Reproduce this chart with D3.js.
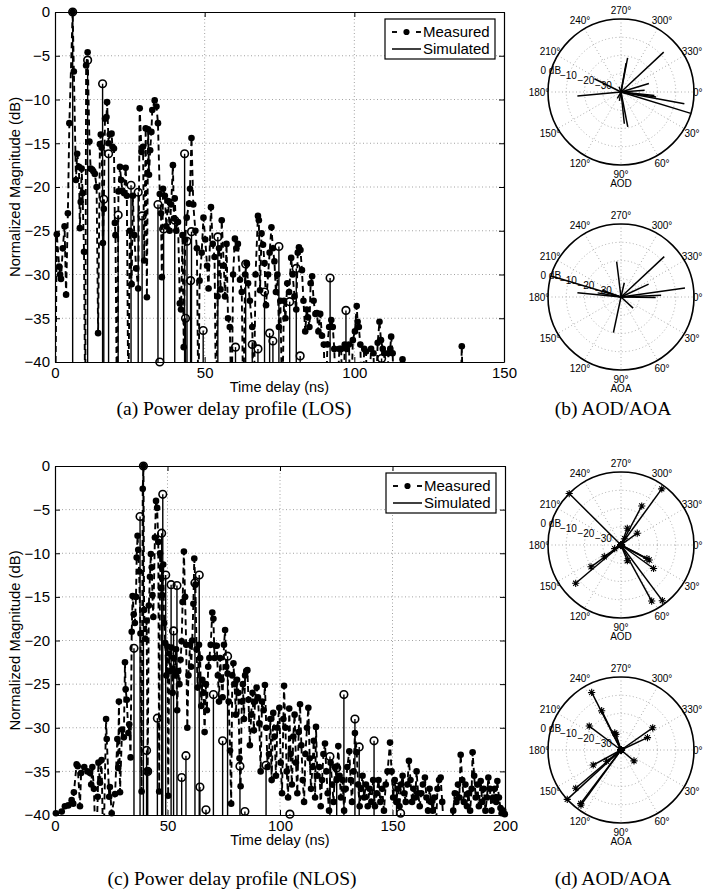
<!DOCTYPE html>
<html lang="en">
<head>
<meta charset="UTF-8">
<title>Power delay profiles and AOD/AOA</title>
<style>
  body { margin: 0; background: #fff; }
  text { font-family: "Liberation Sans", Arial, Helvetica, sans-serif; fill: #000; }
  .grid { stroke: #8a8a8a; stroke-width: 0.8; stroke-dasharray: 1,2.5; }
  .measured { fill: none; stroke: #000; stroke-width: 1.9; stroke-dasharray: 6,4; }
  .stem { stroke: #000; stroke-width: 1.4; }
  .simdot { fill: none; stroke: #000; stroke-width: 1.6; }
  .caption { font-family: "Liberation Serif", "DejaVu Serif", serif; font-size: 19.5px; }
  .polar-grid { fill: none; stroke: #9a9a9a; stroke-width: 0.8; stroke-dasharray: 1,2.5; }
  .ray { stroke: #000; stroke-width: 1.5; }
</style>
</head>
<body>
<div id="fig"></div>
<script src="https://cdnjs.cloudflare.com/ajax/libs/d3/7.8.5/d3.min.js"></script>
<script>
// ---- data: [time (ns), magnitude (dB)] ----
var losMeasured = [
  [0.0,-48],[0.6,-25.4],[1.4,-29.1],[1.7,-30.0],[2.0,-30.5],[2.6,-27.0],[3.2,-24.5],[3.7,-32.3],[4.3,-23.0],[4.8,-12.7],
  [5.9,0],[6.3,-6.8],[7.0,-19.2],[7.4,-16.2],[8.0,-17.7],[8.3,-24.7],[8.6,-21.7],[8.9,-17.9],[9.2,-20.7],[9.7,-27.4],
  [10.1,-46],[10.4,-6.1],[10.9,-4.6],[11.5,-14.8],[11.9,-17.9],[12.4,-18.0],[12.8,-18.2],[13.3,-18.5],[13.9,-20.0],[14.4,-36.7],
  [15.0,-15.1],[15.3,-14.0],[15.6,-15.5],[16.0,-26.4],[16.3,-22.5],[16.7,-12.2],[17.2,-12.0],[17.4,-10.3],[17.9,-15.0],[18.3,-14.0],
  [18.9,-13.9],[19.2,-15.4],[19.7,-15.6],[20.0,-24.1],[20.2,-25.5],[20.7,-46],[21.2,-20.5],[21.7,-17.7],[22.1,-19.2],[22.5,-20.4],
  [23.1,-20.7],[23.6,-17.8],[24.0,-21.0],[24.5,-46],[25.0,-25.0],[25.6,-31.1],[26.0,-21.0],[26.5,-25.5],[27.1,-29.3],[27.8,-31.6],
  [28.3,-11.0],[28.9,-16.0],[29.4,-15.4],[29.8,-28.4],[30.3,-13.3],[30.7,-32.6],[31.1,-13.4],[31.4,-18.6],[31.8,-15.8],[32.2,-13.7],
  [32.5,-11.2],[33.3,-10.1],[33.9,-10.8],[34.4,-12.7],[35.0,-20.8],[35.4,-23.0],[35.7,-30.3],[36.1,-20.2],[36.7,-21.0],[37.2,-24.5],
  [37.8,-21.6],[38.3,-25.0],[38.8,-22.0],[39.4,-17.5],[39.7,-23.6],[40.0,-21.3],[40.5,-25.0],[41.1,-24.0],[41.7,-33.3],[42.1,-34.0],
  [42.6,-25.5],[43.0,-38.3],[43.5,-26.0],[44.0,-23.5],[44.8,-21.9],[45.1,-20.2],[45.6,-14.4],[46.2,-22.0],[46.9,-25.0],[47.4,-27.0],
  [47.9,-46],[48.3,-30.7],[49.0,-27.5],[49.6,-23.5],[50.2,-26.0],[50.8,-29.0],[51.3,-31.6],[52.1,-22.3],[52.7,-26.5],[53.3,-28.0],
  [53.8,-46],[54.3,-32.5],[54.8,-27.0],[55.3,-31.7],[55.7,-23.8],[56.4,-29.0],[56.8,-32.5],[57.3,-26.5],[57.8,-35.0],[58.4,-36.0],
  [59.0,-46],[59.5,-30.0],[60.1,-25.9],[60.6,-27.0],[61.1,-26.5],[61.8,-30.6],[62.4,-32.0],[62.9,-46],[63.5,-30.0],[64.0,-28.7],
  [64.5,-31.0],[65.1,-33.0],[65.9,-36.0],[66.4,-46],[67.0,-30.0],[67.8,-23.3],[68.1,-23.8],[68.5,-31.8],[69.0,-25.3],[69.5,-26.6],
  [70.0,-28.7],[70.5,-33.5],[71.2,-30.0],[71.7,-27.5],[72.3,-24.6],[72.8,-27.0],[73.3,-28.5],[73.8,-32.0],[74.3,-30.0],[74.8,-36.0],
  [75.3,-33.0],[75.9,-46],[76.5,-33.0],[77.0,-35.0],[77.6,-31.0],[78.2,-32.0],[78.9,-28.1],[79.4,-30.0],[80.0,-32.5],[80.6,-34.0],
  [81.1,-27.5],[81.5,-26.9],[82.0,-27.2],[82.5,-29.5],[83.0,-33.0],[83.6,-36.5],[84.1,-34.0],[84.5,-34.9],[85.0,-36.0],[85.4,-31.0],
  [85.9,-30.2],[86.4,-33.0],[87.0,-34.5],[87.5,-34.4],[88.0,-36.5],[88.6,-34.5],[89.2,-37.0],[89.8,-38.0],[90.4,-46],[91.0,-38.0],
  [91.6,-36.0],[92.3,-35.2],[92.8,-36.0],[93.3,-38.5],[94.0,-46],[95.0,-38.5],[95.6,-38.5],[96.2,-46],[96.8,-38.0],[97.5,-38.5],
  [98.2,-38.0],[98.8,-46],[99.5,-37.5],[100.2,-36.5],[100.8,-33.6],[101.1,-35.4],[101.5,-36.0],[102.0,-38.0],[102.6,-46],[103.3,-38.5],
  [103.9,-38.8],[104.5,-46],[105.6,-38.5],[106.4,-39.0],[107.0,-46],[107.8,-37.8],[108.4,-35.4],[108.9,-37.5],[109.5,-38.5],[110.0,-39.0],
  [110.6,-46],[111.4,-39.0],[112.0,-38.5],[112.3,-37.1],[112.8,-39.0],[113.4,-46],[115.5,-46],[116.1,-39.7],[116.8,-46],[135.4,-46],
  [135.9,-38.2],[136.4,-46]
];
var losSimulated = [
  [5.9,0],[10.9,-5.5],[15.9,-8.2],[16.3,-21.4],[17.9,-16.2],[21.1,-23.2],[25.4,-19.8],[27.8,-20.6],[29.1,-23.3],[34.4,-22.0],
  [35.0,-40],[36.3,-24.8],[40.0,-23.8],[43.3,-16.2],[43.6,-35.0],[44.1,-26.2],[45.3,-30.7],[45.6,-25.1],[49.5,-36.4],[54.4,-25.7],
  [60.3,-38.3],[63.7,-28.8],[65.9,-38.0],[67.8,-38.5],[70.0,-32.0],[71.7,-36.7],[72.8,-37.6],[74.8,-26.8],[78.4,-33.1],[80.6,-29.3],
  [81.9,-39.3],[91.9,-30.4],[97.2,-34.1],[109.1,-39.6]
];
var nlosMeasured = [
  [0.4,-39.8],[2.2,-45],[3.0,-39.6],[4.4,-39.0],[5.9,-38.9],[7.4,-38.3],[8.1,-38.7],[8.4,-37.4],[9.6,-34.2],[10.1,-34.4],
  [11.1,-39.0],[11.6,-35.2],[13.0,-34.5],[14.4,-35.0],[15.6,-35.2],[16.1,-36.5],[16.6,-34.5],[17.3,-37.0],[18.2,-45],[19.0,-37.9],
  [19.3,-34.0],[20.0,-36.3],[20.7,-33.7],[21.5,-45],[22.7,-29.0],[23.0,-31.3],[24.1,-37.9],[24.4,-36.8],[25.2,-39.8],[26.7,-37.6],
  [27.7,-31.3],[28.1,-34.6],[28.4,-27.0],[28.9,-37.4],[29.8,-30.2],[30.6,-31.1],[31.1,-22.5],[31.4,-25.6],[31.9,-26.8],[32.6,-30.6],
  [33.0,-29.6],[33.6,-33.4],[34.1,-19.0],[34.5,-14.9],[35.0,-17.0],[35.5,-18.0],[36.0,-15.0],[36.3,-10.5],[36.7,-8.0],[37.0,-9.6],
  [37.4,-12.1],[38.0,-19.2],[38.5,-37.3],[39.0,-2.6],[39.3,0],[39.6,-16.5],[40.1,-19.8],[40.7,-17.7],[41.2,-35.0],[41.7,-16.0],
  [42.2,-12.7],[42.6,-10.1],[43.0,-11.6],[43.3,-14.8],[43.7,-17.3],[44.4,-8.2],[44.9,-4.0],[45.4,-4.8],[45.9,-8.7],[46.3,-37.3],
  [46.7,-10.0],[47.1,-14.0],[47.6,-14.8],[48.1,-11.3],[48.5,-18.0],[49.0,-20.3],[49.5,-24.0],[50.0,-20.7],[50.3,-37.8],[50.8,-21.5],
  [51.3,-23.5],[51.8,-20.8],[52.3,-26.0],[52.8,-22.0],[53.3,-24.0],[53.8,-21.0],[54.3,-28.0],[54.8,-23.5],[55.3,-25.0],[55.8,-22.2],
  [56.3,-20.1],[56.7,-15.6],[57.3,-9.8],[57.8,-15.0],[58.3,-20.5],[58.8,-30.0],[59.3,-24.0],[60.0,-20.5],[60.5,-23.0],[61.0,-20.0],
  [61.5,-15.8],[61.9,-10.6],[62.4,-13.6],[62.9,-21.0],[63.4,-25.4],[64.0,-20.5],[64.5,-22.0],[65.0,-27.5],[65.5,-24.5],[66.0,-26.0],
  [66.5,-30.5],[67.0,-25.0],[67.5,-28.0],[68.1,-23.0],[68.6,-22.0],[69.2,-20.5],[69.9,-16.8],[70.4,-17.5],[70.9,-22.0],[71.4,-20.6],
  [71.9,-20.6],[72.4,-24.0],[72.9,-27.0],[73.4,-22.0],[74.0,-24.5],[74.5,-26.5],[75.1,-20.5],[75.6,-18.8],[76.1,-23.0],[76.7,-23.8],
  [77.2,-27.0],[77.8,-32.6],[78.3,-38.7],[78.8,-24.0],[79.3,-22.6],[79.8,-25.0],[80.4,-28.5],[80.9,-24.5],[81.5,-26.0],[82.0,-33.5],
  [82.5,-36.7],[83.0,-27.0],[83.5,-25.0],[84.0,-29.0],[84.5,-24.0],[85.0,-23.5],[85.5,-23.4],[86.0,-26.8],[86.6,-32.0],[87.2,-28.5],
  [87.8,-26.0],[88.4,-30.3],[88.9,-27.0],[89.6,-25.4],[90.2,-26.5],[90.8,-29.5],[91.4,-35.0],[92.0,-27.0],[92.7,-28.0],[93.3,-25.1],
  [93.9,-30.0],[94.5,-34.5],[95.1,-33.0],[95.7,-29.0],[96.3,-36.0],[97.0,-28.3],[97.6,-31.0],[98.2,-35.5],[98.8,-30.0],[99.7,-27.7],
  [100.3,-34.0],[100.9,-37.5],[101.5,-29.0],[101.8,-25.2],[102.4,-30.0],[103.0,-35.0],[103.6,-38.0],[104.1,-27.8],[104.7,-33.0],[105.3,-36.5],
  [105.9,-31.0],[106.5,-28.5],[107.1,-34.0],[107.7,-37.5],[108.3,-30.5],[108.9,-27.3],[109.5,-32.0],[110.1,-36.0],[110.7,-38.5],[111.3,-33.0],
  [112.0,-30.0],[112.6,-27.7],[113.2,-33.5],[113.8,-37.0],[114.4,-34.5],[115.0,-31.5],[115.6,-38.0],[116.0,-29.9],[116.6,-35.5],[117.5,-34.5],
  [118.1,-39.0],[118.7,-36.0],[119.3,-33.0],[120.0,-31.8],[120.6,-35.0],[121.2,-37.5],[121.8,-39.5],[122.5,-34.0],[123.2,-36.5],[123.8,-38.5],
  [124.5,-34.5],[125.2,-36.0],[125.9,-32.1],[126.5,-35.5],[127.1,-38.0],[127.8,-36.0],[128.5,-39.5],[129.2,-37.0],[129.9,-34.5],[130.8,-32.7],
  [131.4,-36.0],[132.0,-38.5],[132.7,-35.0],[133.3,-30.6],[134.1,-32.8],[134.7,-36.5],[135.4,-39.0],[136.0,-37.0],[136.7,-35.5],[137.4,-38.0],
  [138.2,-36.5],[139.0,-39.0],[139.8,-37.0],[140.6,-38.5],[141.4,-36.0],[142.2,-39.0],[143.0,-37.5],[143.8,-36.0],[144.6,-38.5],[145.4,-37.0],
  [146.2,-39.5],[147.0,-36.5],[147.8,-35.0],[148.9,-31.7],[149.6,-35.0],[150.3,-38.0],[151.0,-36.0],[151.7,-38.5],[152.4,-37.0],[153.1,-39.0],
  [153.8,-36.5],[154.5,-35.5],[155.2,-37.5],[155.9,-38.5],[156.6,-36.5],[157.3,-33.8],[158.0,-36.0],[158.7,-38.5],[159.4,-37.0],[160.1,-38.0],
  [160.7,-35.0],[161.4,-37.5],[162.1,-39.0],[162.8,-37.5],[163.5,-36.5],[164.4,-35.7],[165.1,-38.0],[165.8,-39.5],[166.5,-37.0],[167.2,-38.5],
  [167.9,-39.5],[168.6,-38.0],[169.3,-41.5],[170.0,-37.0],[170.7,-36.0],[171.4,-35.7],[172.1,-38.5],[172.8,-41.5],[176.3,-41.5],[177.0,-39.5],
  [177.7,-37.5],[178.4,-38.5],[179.1,-36.5],[179.7,-38.0],[180.3,-33.1],[181.0,-36.0],[181.7,-38.5],[182.4,-36.5],[183.1,-39.0],[183.8,-37.5],
  [184.5,-39.5],[185.2,-37.0],[185.6,-32.8],[186.3,-35.5],[187.0,-38.0],[187.7,-36.5],[188.4,-39.0],[189.2,-36.1],[189.9,-38.5],[190.6,-37.0],
  [191.3,-39.5],[192.0,-38.0],[192.6,-35.7],[193.3,-37.0],[194.0,-39.5],[194.7,-38.0],[195.4,-37.0],[196.1,-38.5],[196.6,-36.1],[197.3,-38.0],
  [198.0,-39.2],[198.5,-39.8],[199.2,-39.5],[199.9,-39.9]
];
var nlosSimulated = [
  [35.1,-20.9],[37.8,-5.8],[39.3,0],[40.7,-32.6],[41.2,-35.0],[45.5,-28.9],[47.4,-7.7],[47.9,-3.25],[49.2,-12.5],[51.6,-13.6],
  [52.7,-18.9],[54.2,-13.7],[56.3,-35.7],[58.2,-33.2],[62.2,-13.4],[64.1,-12.5],[64.4,-36.8],[67.1,-39.4],[70.4,-26.2],[74.5,-31.5],
  [76.7,-21.8],[82.2,-34.4],[84.4,-39.6],[93.8,-34.3],[104.4,-39.9],[122.2,-33.3],[125.2,-34.6],[128.4,-26.2],[133.3,-29.0],[135.2,-32.2],
  [141.8,-31.5],[151.8,-36.8],[153.6,-39.8]
];

// ---- polar data: [angle (deg), magnitude (dB)] ----
var losAod = [[317,-8],[17,0],[10.5,-4.7],[343,-24],[6,-21.6],[356,-27],[281,-21],[280,-24],[206.5,-23.7],[174.7,-16],
  [79,-20.5],[84,-22.5],[120,-36],[8,-20.6],[100,-35],[250,-37]];
var losAoa = [[317,-7.6],[352,-4.6],[196.7,0],[185.7,-16],[335,-23.3],[263,-20.5],[102,-20],[357.6,-18],[42.5,-31],[283,-32],
  [200,-29],[1,-21],[190,-27]];
var nlosAod = [[224.8,0],[306,-2],[298,-15.8],[290.7,-30.2],[324,-29],[139.8,-7.5],[144,-19.7],[145,-28.8],[61.3,-5],[53.4,-2],
  [35.8,-18],[28,-22.5],[27.5,-24],[68,-30.7],[300,-36],[150,-36]];
var nlosAoa = [[243,-4.6],[243.8,-16],[217,-18.2],[252,-31],[325,-18.8],[335,-24],[40,-30.7],[151.6,-22.7],[137.4,0],[139.8,-7.5],
  [126,-2.7],[127,-3.3],[142,-30],[250,-30]];

// ---- ticks / labels ----
var yTicks = [0,-5,-10,-15,-20,-25,-30,-35,-40];
var losXTicks = [0,50,100,150];
var nlosXTicks = [0,50,100,150,200];
var angleTicks = [0,30,60,90,120,150,180,210,240,270,300,330];
var ringTicks = [-30,-20,-10,0];
var legendLabels = ['Measured','Simulated'];

var W = 703, H = 893;
var svg = d3.select('#fig').append('svg').attr('width', W).attr('height', H);
svg.append('rect').attr('width', W).attr('height', H).attr('fill', '#fff');

function fmtDb(d) { return d < 0 ? '\u2212' + Math.abs(d) : String(d); }

function drawPdp(o) {
  var x = d3.scaleLinear().domain([0, o.xmax]).range([o.left, o.right]);
  var y = d3.scaleLinear().domain([-40, 0]).range([o.bottom, o.top]);
  var g = svg.append('g');

  g.append('clipPath').attr('id', o.id).append('rect')
    .attr('x', o.left).attr('y', o.top)
    .attr('width', o.right - o.left).attr('height', o.bottom - o.top);

  // dotted grid
  o.xticks.forEach(function(t) {
    if (t === 0 || t === o.xmax) return;
    g.append('line').attr('class', 'grid')
      .attr('x1', x(t)).attr('x2', x(t)).attr('y1', o.top).attr('y2', o.bottom);
  });
  yTicks.forEach(function(t) {
    if (t === 0 || t === -40) return;
    g.append('line').attr('class', 'grid')
      .attr('x1', o.left).attr('x2', o.right).attr('y1', y(t)).attr('y2', y(t));
  });

  // measured: dashed line with dots
  var line = d3.line().x(function(d) { return x(d[0]); }).y(function(d) { return y(d[1]); });
  g.append('path').datum(o.measured).attr('class', 'measured')
    .attr('clip-path', 'url(#' + o.id + ')').attr('d', line);
  g.selectAll('circle.mdot').data(o.measured.filter(function(d) { return d[1] >= -40.2; }))
    .enter().append('circle').attr('class', 'mdot')
    .attr('cx', function(d) { return x(d[0]); })
    .attr('cy', function(d) { return y(d[1]); })
    .attr('r', 3.3).attr('fill', '#000');

  // simulated: stems with open circles
  g.selectAll('line.stem').data(o.simulated).enter().append('line').attr('class', 'stem')
    .attr('x1', function(d) { return x(d[0]); }).attr('x2', function(d) { return x(d[0]); })
    .attr('y1', function(d) { return y(d[1]); }).attr('y2', o.bottom);
  g.selectAll('circle.sdot').data(o.simulated).enter().append('circle').attr('class', 'simdot')
    .attr('cx', function(d) { return x(d[0]); })
    .attr('cy', function(d) { return y(d[1]); })
    .attr('r', 3.8);

  // axes (ticks inside, MATLAB style box)
  var ax = g.append('g').attr('transform', 'translate(0,' + o.bottom + ')')
    .call(d3.axisBottom(x).tickValues(o.xticks).tickSize(-5).tickSizeOuter(0).tickPadding(5));
  var ay = g.append('g').attr('transform', 'translate(' + o.left + ',0)')
    .call(d3.axisLeft(y).tickValues(yTicks).tickSize(-5).tickSizeOuter(0).tickPadding(5).tickFormat(fmtDb));
  g.append('g').attr('transform', 'translate(0,' + o.top + ')')
    .call(d3.axisTop(x).tickValues(o.xticks).tickSize(-5).tickSizeOuter(0).tickFormat(''));
  g.append('g').attr('transform', 'translate(' + o.right + ',0)')
    .call(d3.axisRight(y).tickValues(yTicks).tickSize(-5).tickSizeOuter(0).tickFormat(''));
  g.selectAll('.domain').attr('stroke', '#000').attr('stroke-width', 1.2);
  g.selectAll('.tick line').attr('stroke', '#000');
  [ax, ay].forEach(function(a) {
    a.attr('font-family', null).attr('font-size', null);
    a.selectAll('text').style('font-size', '15px').attr('fill', '#000');
  });

  // axis titles
  g.append('text').attr('x', (o.left + o.right) / 2).attr('y', o.bottom + 30)
    .attr('text-anchor', 'middle').style('font-size', '14.5px').text('Time delay (ns)');
  g.append('text')
    .attr('transform', 'translate(20,' + ((o.top + o.bottom) / 2) + ') rotate(-90)')
    .attr('text-anchor', 'middle').style('font-size', '14.8px').text('Normalized Magnitude (dB)');

  // legend
  var lx = o.right - 119, ly = o.top + 7;
  var lg = g.append('g');
  lg.append('rect').attr('x', lx).attr('y', ly).attr('width', 110).attr('height', 40)
    .attr('fill', '#fff').attr('stroke', '#000').attr('stroke-width', 1.2);
  lg.append('line').attr('x1', lx + 7).attr('x2', lx + 12).attr('y1', ly + 13).attr('y2', ly + 13)
    .attr('stroke', '#000').attr('stroke-width', 1.9);
  lg.append('line').attr('x1', lx + 31).attr('x2', lx + 36).attr('y1', ly + 13).attr('y2', ly + 13)
    .attr('stroke', '#000').attr('stroke-width', 1.9);
  lg.append('circle').attr('cx', lx + 21.5).attr('cy', ly + 13).attr('r', 3.1).attr('fill', '#000');
  lg.append('line').attr('x1', lx + 7).attr('x2', lx + 36).attr('y1', ly + 30).attr('y2', ly + 30)
    .attr('stroke', '#000').attr('stroke-width', 1.5);
  legendLabels.forEach(function(s, i) {
    lg.append('text').attr('x', lx + 38).attr('y', ly + 18 + i * 17)
      .style('font-size', '15px').text(s);
  });

  g.append('text').attr('class', 'caption').attr('x', o.captionX).attr('y', o.captionY)
    .attr('text-anchor', 'middle').text(o.caption);
}

function star(cx, cy, s) {
  var p = '';
  for (var k = 0; k < 4; k++) {
    var a = k * Math.PI / 4;
    var dx = s * Math.cos(a), dy = s * Math.sin(a);
    p += 'M' + (cx - dx) + ',' + (cy - dy) + 'L' + (cx + dx) + ',' + (cy + dy);
  }
  return p;
}

function drawPolar(cx, cy, data, label, withStars) {
  var R = 73;
  var r = d3.scaleLinear().domain([-40, 0]).range([0, R]).clamp(true);
  var g = svg.append('g');
  var rad = function(a) { return a * Math.PI / 180; };

  // rings and spokes
  ringTicks.forEach(function(t) {
    if (t === 0) return;
    g.append('circle').attr('class', 'polar-grid').attr('cx', cx).attr('cy', cy).attr('r', r(t));
  });
  angleTicks.forEach(function(a) {
    if (a >= 180) return;
    g.append('line').attr('class', 'polar-grid')
      .attr('x1', cx - R * Math.cos(rad(a))).attr('y1', cy - R * Math.sin(rad(a)))
      .attr('x2', cx + R * Math.cos(rad(a))).attr('y2', cy + R * Math.sin(rad(a)));
  });
  g.append('circle').attr('cx', cx).attr('cy', cy).attr('r', R)
    .attr('fill', 'none').attr('stroke', '#000').attr('stroke-width', 1.6);

  // angle labels (0 right, 90 bottom); the 0 label is kept inside the page edge
  angleTicks.forEach(function(a) {
    var tx = cx + (R + 9) * Math.cos(rad(a));
    var t = g.append('text').attr('x', tx)
      .attr('y', cy + (R + 9) * Math.sin(rad(a)))
      .attr('text-anchor', 'middle').attr('dy', '0.35em')
      .style('font-size', '10px').text(a + '\u00b0');
    if (a === 0) t.attr('x', W - 0.5).attr('text-anchor', 'end');
  });
  // ring labels
  ringTicks.forEach(function(t) {
    var rr = r(t);
    g.append('text').attr('x', cx + rr * Math.cos(rad(196)))
      .attr('y', cy + rr * Math.sin(rad(196)))
      .attr('text-anchor', 'middle').attr('dy', '0.2em')
      .style('font-size', '10px').text(t === 0 ? '0 dB' : fmtDb(t));
  });

  // rays
  data.forEach(function(d) {
    var px = cx + r(d[1]) * Math.cos(rad(d[0])), py = cy + r(d[1]) * Math.sin(rad(d[0]));
    g.append('line').attr('class', 'ray').attr('x1', cx).attr('y1', cy).attr('x2', px).attr('y2', py);
    if (withStars) {
      g.append('path').attr('d', star(px, py, 3.6)).attr('stroke', '#000').attr('stroke-width', 1.1);
      g.append('path').attr('d', star(cx, cy, 3.6)).attr('stroke', '#000').attr('stroke-width', 1.1);
    }
  });

  g.append('text').attr('x', cx).attr('y', cy + R + 22).attr('text-anchor', 'middle')
    .style('font-size', '10px').text(label);
}

drawPdp({ id: 'clipA', left: 55, right: 504, top: 12, bottom: 362, xmax: 150, xticks: losXTicks,
  measured: losMeasured, simulated: losSimulated, caption: '(a)  Power delay profile (LOS)',
  captionX: 234, captionY: 415 });
drawPdp({ id: 'clipC', left: 55, right: 505, top: 466, bottom: 815, xmax: 200, xticks: nlosXTicks,
  measured: nlosMeasured, simulated: nlosSimulated, caption: '(c)  Power delay profile (NLOS)',
  captionX: 232, captionY: 885 });

drawPolar(621, 92, losAod, 'AOD', false);
drawPolar(621, 297, losAoa, 'AOA', false);
drawPolar(621, 545, nlosAod, 'AOD', true);
drawPolar(621, 750, nlosAoa, 'AOA', true);

svg.append('text').attr('class', 'caption').attr('x', 613).attr('y', 415)
  .attr('text-anchor', 'middle').text('(b)  AOD/AOA');
svg.append('text').attr('class', 'caption').attr('x', 613).attr('y', 885)
  .attr('text-anchor', 'middle').text('(d)  AOD/AOA');
</script>
</body>
</html>
